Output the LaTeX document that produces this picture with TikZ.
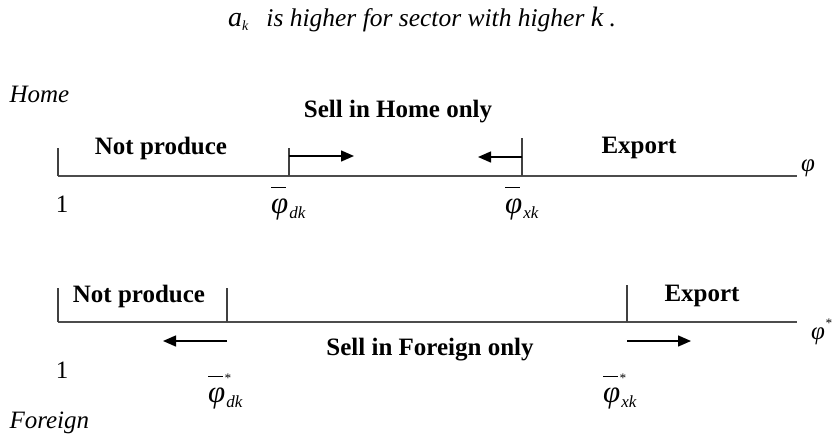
\documentclass[tikz,border=0pt]{standalone}
\usepackage{fontspec}
\setmainfont{Liberation Serif}
\usepackage{tikz}
\usetikzlibrary{arrows.meta}

\tikzset{
  axisline/.style={line width=1.4pt, black!70},
  tickline/.style={line width=1.2pt, black!75},
  moveto/.style={line width=1.4pt, black, -{Triangle[length=13pt,width=11pt]}},
  region/.style={font=\fontsize{25}{29}\selectfont\bfseries},
  country/.style={font=\fontsize{25}{29}\selectfont\itshape, anchor=west},
  onelabel/.style={font=\fontsize{25}{29}\selectfont},
  cutoff/.style={font=\fontsize{31}{35}\selectfont\itshape, anchor=base west, inner sep=0pt},
  axisname/.style={font=\fontsize{25}{29}\selectfont\itshape, anchor=base west, inner sep=0pt},
}
% bar drawn high over phi, optional star, small subscript
\newcommand{\cutphi}[2]{\rlap{\raisebox{25pt}{\rule{15pt}{1.3pt}\hspace{1pt}\raisebox{-5pt}{\fontsize{13}{13}\selectfont #1}}}φ\hspace{1pt}\raisebox{-5pt}{\fontsize{17}{19}\selectfont #2}}

\begin{document}
\begin{tikzpicture}[x=1pt,y=-1pt]
\useasboundingbox (0,0) rectangle (837,439);

% title
\node[font=\fontsize{25.5}{29}\selectfont\itshape, anchor=base west, inner sep=0pt] (title) at (228,26)
  {{\fontsize{28}{32}\selectfont a}\raisebox{-4pt}{\fontsize{14}{16}\selectfont k}\hspace{18pt}is higher for sector with higher {\fontsize{28}{31}\selectfont k} .};

% Home
\node[country] (home) at (6,94) {Home};
\coordinate (h0) at (58,176);
\coordinate (hd) at (289,176);
\coordinate (hx) at (522,176);
\coordinate (hend) at (797,176);
\draw[axisline] (h0) -- (hend);
\draw[tickline] (h0) -- ++(0,-28);
\draw[tickline] (hd) -- ++(0,-28);
\draw[tickline] (hx) -- ++(0,-38);
\coordinate (hda) at (289,156);
\coordinate (hdb) at (354,156);
\coordinate (hxa) at (522,157);
\coordinate (hxb) at (478,157);
\draw[moveto] (hda) -- (hdb);
\draw[moveto] (hxa) -- (hxb);
\node[region] (hnp) at (161,148) {Not produce};
\node[region] (hsell) at (398,112) {Sell in Home only};
\node[region] (hexp) at (639,148) {Export};
\node[axisname] (hphi) at (801,171) {φ};
\node[onelabel] (hone) at (62,204) {1};
\node[cutoff] (hdk) at (271,213) {\cutphi{}{dk}};
\node[cutoff] (hxk) at (505,213) {\cutphi{}{xk}};

% Foreign
\coordinate (f0) at (58,322);
\coordinate (fd) at (227,322);
\coordinate (fx) at (627,322);
\coordinate (fend) at (797,322);
\draw[axisline] (f0) -- (fend);
\draw[tickline] (f0) -- ++(0,-34);
\draw[tickline] (fd) -- ++(0,-34);
\draw[tickline] (fx) -- ++(0,-37);
\coordinate (fda) at (227,341);
\coordinate (fdb) at (163,341);
\coordinate (fxa) at (627,341);
\coordinate (fxb) at (691,341);
\draw[moveto] (fda) -- (fdb);
\draw[moveto] (fxa) -- (fxb);
\node[region] (fnp) at (139,296) {Not produce};
\node[region] (fsell) at (430,350) {Sell in Foreign only};
\node[region] (fexp) at (702,296) {Export};
\node[axisname] (fphi) at (811,339) {φ\raisebox{12pt}{\fontsize{13}{13}\selectfont *}};
\node[onelabel] (fone) at (62,370) {1};
\node[cutoff] (fdk) at (208,402) {\cutphi{*}{dk}};
\node[cutoff] (fxk) at (603,402) {\cutphi{*}{xk}};
\node[country] (foreign) at (6,423) {Foreign};
\end{tikzpicture}
\end{document}
